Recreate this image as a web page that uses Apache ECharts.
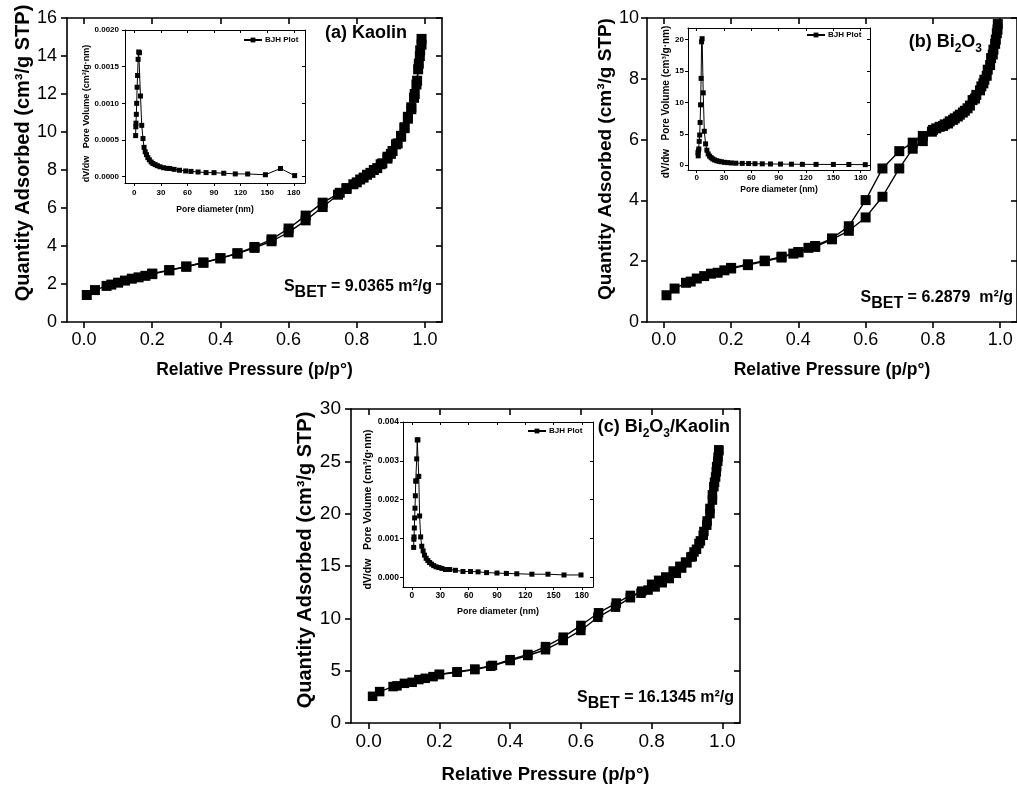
<!DOCTYPE html>
<html><head><meta charset="utf-8">
<script src="https://cdn.jsdelivr.net/npm/echarts@6/dist/echarts.min.js"></script>
<style>html,body{margin:0;padding:0;background:#fff}#c{width:1017px;height:787px}</style>
</head><body><div id="c"></div>
<script>
// ---------- DATA ----------
const pTicks = [0, 0.2, 0.4, 0.6, 0.8, 1.0];
const dTicks = [0, 30, 60, 90, 120, 150, 180];
const kaoInsetYTicks = [0, 0.0005, 0.0010, 0.0015, 0.0020];
const biInsetYTicks = [0, 5, 10, 15, 20];
const compInsetYTicks = [0, 0.001, 0.002, 0.003, 0.004];

// (a) Kaolin isotherm
const kaoAdsP = [0.008,0.032,0.066,0.08,0.1,0.12,0.14,0.16,0.18,0.2,0.25,0.3,0.35,0.4,0.45,0.5,0.55,0.6,0.65,0.7,0.745,0.77,0.8,0.82,0.84,0.86,0.875,0.89,0.9,0.915,0.93,0.94,0.95,0.96,0.97,0.977,0.982,0.986,0.99];
const kaoAdsQ = [1.42,1.68,1.9,1.97,2.07,2.18,2.28,2.35,2.43,2.52,2.72,2.91,3.12,3.35,3.6,3.9,4.25,4.72,5.35,6.05,6.7,7.0,7.35,7.6,7.85,8.1,8.35,8.6,8.85,9.35,9.8,10.25,10.8,11.3,12.0,12.7,13.6,14.3,14.9];
const kaoDesP = [0.99,0.985,0.98,0.975,0.968,0.96,0.95,0.94,0.93,0.92,0.905,0.89,0.87,0.85,0.83,0.81,0.79,0.77,0.75,0.7,0.65,0.6,0.55,0.5,0.45,0.4,0.35,0.3,0.25,0.2];
const kaoDesQ = [14.6,14.0,13.3,12.5,11.8,11.2,10.7,10.2,9.75,9.4,9.0,8.7,8.3,8.0,7.75,7.5,7.25,7.05,6.8,6.28,5.6,4.92,4.35,3.95,3.62,3.36,3.13,2.92,2.73,2.55];
// (b) Bi2O3 isotherm
const biAdsP = [0.008,0.032,0.066,0.08,0.098,0.12,0.14,0.16,0.18,0.2,0.25,0.3,0.35,0.385,0.4,0.43,0.45,0.5,0.55,0.6,0.65,0.7,0.74,0.77,0.797,0.81,0.83,0.845,0.86,0.874,0.889,0.903,0.918,0.929,0.944,0.953,0.963,0.973,0.98,0.987,0.992];
const biAdsQ = [0.88,1.1,1.29,1.33,1.43,1.51,1.59,1.62,1.7,1.76,1.87,2.0,2.12,2.25,2.29,2.44,2.47,2.72,3.0,3.44,4.12,5.05,5.7,5.95,6.26,6.37,6.45,6.53,6.65,6.76,6.89,7.03,7.3,7.47,7.75,7.97,8.3,8.68,8.96,9.29,9.62];
const biDesP = [0.993,0.99,0.985,0.978,0.97,0.96,0.95,0.94,0.925,0.91,0.895,0.88,0.865,0.85,0.835,0.82,0.8,0.77,0.74,0.7,0.65,0.6,0.55,0.5,0.45,0.4,0.35,0.3,0.25,0.2];
const biDesQ = [9.8,9.5,9.15,8.8,8.45,8.1,7.85,7.62,7.35,7.12,6.95,6.82,6.7,6.6,6.5,6.42,6.32,6.12,5.9,5.62,5.05,4.01,3.15,2.75,2.5,2.3,2.15,2.02,1.9,1.78];
// (c) Bi2O3/Kaolin isotherm
const compAdsP = [0.011,0.031,0.069,0.08,0.101,0.123,0.142,0.16,0.182,0.2,0.25,0.3,0.345,0.4,0.45,0.5,0.55,0.6,0.648,0.698,0.74,0.772,0.8,0.82,0.84,0.861,0.88,0.896,0.911,0.92,0.934,0.946,0.956,0.965,0.972,0.976,0.981,0.984,0.988,0.99];
const compAdsQ = [2.55,3.0,3.48,3.55,3.79,3.89,4.15,4.27,4.43,4.63,4.85,5.1,5.42,5.97,6.45,7.0,7.88,8.84,10.1,11.07,11.97,12.6,13.25,13.63,13.95,14.52,14.97,15.38,15.86,16.34,17.15,17.94,18.9,20.0,21.3,22.57,23.5,24.5,25.4,26.1];
const compDesP = [0.99,0.987,0.983,0.978,0.972,0.965,0.957,0.948,0.938,0.927,0.915,0.9,0.885,0.87,0.85,0.83,0.81,0.79,0.77,0.74,0.7,0.65,0.6,0.55,0.5,0.45,0.4,0.35,0.3,0.25,0.2];
const compDesQ = [26.0,25.0,24.0,23.0,21.8,20.5,19.3,18.3,17.4,16.6,15.9,15.3,14.8,14.3,13.8,13.4,13.0,12.7,12.4,12.19,11.46,10.53,9.32,8.2,7.3,6.55,6.05,5.5,5.15,4.9,4.65];
// BJH insets
const kaoPoreD = [1.5,1.7,1.9,2.3,2.7,3.2,3.7,4.3,5.0,5.8,7.0,8.4,9.8,11,12.3,13.8,15.3,17,19,21,23.5,26,29,33,37,40,45,51,58,64,72,81,90,101,114,128,148,165,181];
const kaoPoreV = [0.00056,0.00068,0.00073,0.00085,0.001,0.00122,0.00138,0.0016,0.0017,0.00169,0.0011,0.0007,0.00052,0.0004,0.00034,0.0003,0.00026,0.00023,0.0002,0.00018,0.000165,0.00015,0.000135,0.000122,0.000114,0.000112,0.0001,0.000088,0.000078,0.000072,0.000064,0.000056,0.000055,0.000047,0.000038,0.000037,0.000027,0.000112,0.000015];
const biPoreD = [1.4,1.7,2.0,2.4,2.8,3.3,3.8,4.3,4.9,5.4,6.0,7.2,8.4,9.8,11.2,12.6,14.2,15.9,17.7,19.7,22,24.5,27.3,30.5,34,38,43,50,57,64,72,81,92,104,116,131,150,167,185];
const biPoreV = [2.0,1.5,2.3,2.6,3.8,4.8,6.8,9.6,13.8,19.6,20.1,11.5,5.4,3.4,2.4,1.8,1.45,1.2,1.0,0.85,0.72,0.63,0.55,0.47,0.42,0.37,0.33,0.3,0.27,0.25,0.23,0.21,0.19,0.17,0.15,0.14,0.13,0.12,0.1];
const compPoreD = [1.8,2.0,2.2,2.5,2.8,3.2,3.6,4.0,4.4,5.0,5.6,6.3,7.2,8.1,9.2,10.4,11.8,13.3,15,16.8,18.7,20.8,23,25.5,28.5,31.7,35.5,40,46,54,62,70,79,90,100,111,127,144,161,179];
const compPoreV = [0.00077,0.00098,0.00104,0.00127,0.00153,0.00178,0.0021,0.00248,0.00248,0.00305,0.00354,0.00354,0.0026,0.00158,0.00104,0.0008,0.00068,0.00057,0.00049,0.00043,0.00038,0.00034,0.0003,0.00027,0.00025,0.00023,0.0002,0.0002,0.00018,0.00015,0.00015,0.00014,0.00012,0.00011,0.0001,0.00009,0.00008,0.00008,0.00006,0.00006];

// ---------- BUILD ----------
const FONT = "'Liberation Sans', Arial, sans-serif";
const zip = (a, b) => a.map((v, i) => [v, b[i]]);
const grids = [], xAxes = [], yAxes = [], series = [];

function addBox(g, c) {
  grids.push(g);
  const gi = grids.length - 1;
  const lw = c.lw, tl = c.tickLen;
  const line = {show: true, onZero: false, lineStyle: {color: '#000', width: lw}};
  const tick = (inside, vals) => ({show: true, inside, length: tl, customValues: vals, lineStyle: {color: '#000', width: lw}});
  xAxes.push({gridIndex: gi, type: 'value', position: 'bottom', min: c.xmin, max: c.xmax,
    name: c.xName, nameLocation: 'middle', nameGap: c.xNameGap,
    nameTextStyle: {fontFamily: FONT, fontSize: c.xNameFs, fontWeight: 'bold', color: '#000'},
    axisLine: line, axisTick: tick(false, c.xTicks),
    axisLabel: {customValues: c.xTicks, formatter: c.xFmt, fontFamily: FONT, fontSize: c.labelFs, fontWeight: c.labelFw, color: '#000', margin: c.xMargin},
    splitLine: {show: false}});
  const xb = xAxes.length - 1;
  xAxes.push({gridIndex: gi, type: 'value', position: 'top', min: c.xmin, max: c.xmax,
    axisLine: line, axisTick: tick(true, c.xTicks), axisLabel: {show: false}, splitLine: {show: false}});
  yAxes.push({gridIndex: gi, type: 'value', position: 'left', min: c.ymin, max: c.ymax,
    name: c.yName, nameLocation: 'middle', nameGap: c.yNameGap,
    nameTextStyle: {fontFamily: FONT, fontSize: c.yNameFs, fontWeight: 'bold', color: '#000', padding: c.yNamePad},
    axisLine: line, axisTick: tick(false, c.yTicks),
    axisLabel: {customValues: c.yTicks, formatter: c.yFmt, fontFamily: FONT, fontSize: c.labelFs, fontWeight: c.labelFw, color: '#000', margin: c.yMargin},
    splitLine: {show: false}});
  const yl = yAxes.length - 1;
  yAxes.push({gridIndex: gi, type: 'value', position: 'right', min: c.ymin, max: c.ymax,
    axisLine: line, axisTick: tick(true, c.yTicks), axisLabel: {show: false}, splitLine: {show: false}});
  return {x: xb, y: yl};
}

const mainBase = {xmin: -0.05, xmax: 1.05, xTicks: pTicks, xFmt: v => v.toFixed(1), yFmt: v => String(Math.round(v)),
  xName: 'Relative Pressure (p/p°)', yName: 'Quantity Adsorbed (cm³/g STP)', lw: 1.6, tickLen: 6, labelFw: 'normal',
  xMargin: 9, yMargin: 10};
const insetBase = {xTicks: dTicks, xFmt: v => String(v), xName: 'Pore diameter (nm)', yName: 'dV/dw   Pore Volume (cm³/g·nm)',
  lw: 1, tickLen: 3, labelFw: 'bold'};

const rng = (a, b, s) => { const r = []; for (let v = a; v <= b + 1e-9; v += s) r.push(+v.toFixed(6)); return r; };

const A = addBox({left: 67, top: 18, width: 375, height: 304}, Object.assign({}, mainBase, {
  ymin: 0, ymax: 16, yTicks: rng(0, 16, 2), labelFs: 18, xNameFs: 17.5, yNameFs: 20, xNameGap: 39, yNameGap: 33, yNamePad: [0, 0, 0, 34]}));
const B = addBox({left: 647, top: 18, width: 376, height: 304}, Object.assign({}, mainBase, {
  ymin: 0, ymax: 10, yTicks: rng(0, 10, 2), labelFs: 18, xNameFs: 17.5, yNameFs: 19, xNameGap: 39, yNameGap: 31, yNamePad: [0, 0, 0, 22], yMargin: 8}));
const C = addBox({left: 351, top: 409, width: 389, height: 314}, Object.assign({}, mainBase, {
  ymin: 0, ymax: 30, yTicks: rng(0, 30, 5), labelFs: 19, xNameFs: 18.5, yNameFs: 20, xNameGap: 42, yNameGap: 35, yNamePad: [0, 0, 0, 12]}));

const IA = addBox({left: 125, top: 30, width: 180, height: 153}, Object.assign({}, insetBase, {
  xmin: -10.5, xmax: 192.7, ymin: -0.000086, ymax: 0.002, yTicks: kaoInsetYTicks, yFmt: v => v.toFixed(4),
  labelFs: 8, xNameFs: 8.5, yNameFs: 9, xNameGap: 22, yNameGap: 28, yNamePad: [0, 14, 0, 0], xMargin: 6, yMargin: 6}));
const IB = addBox({left: 688, top: 28, width: 182, height: 142}, Object.assign({}, insetBase, {
  xmin: -9.5, xmax: 190.2, ymin: -0.75, ymax: 21.8, yTicks: biInsetYTicks, yFmt: v => String(Math.round(v)),
  labelFs: 8, xNameFs: 8.5, yNameFs: 10, xNameGap: 15, yNameGap: 11, yNamePad: [0, 6, 0, 0], xMargin: 4, yMargin: 4}));
const IC = addBox({left: 403, top: 422, width: 190, height: 165}, Object.assign({}, insetBase, {
  xmin: -9.5, xmax: 191.7, ymin: -0.00025, ymax: 0.004, yTicks: compInsetYTicks, yFmt: v => v.toFixed(3),
  labelFs: 8.5, xNameFs: 9, yNameFs: 10.5, xNameGap: 20, yNameGap: 10, yNamePad: [0, 10, 0, 0], xMargin: 4, yMargin: 4}));

function mainSeries(name, ax, p, q, size) {
  series.push({name, type: 'line', xAxisIndex: ax.x, yAxisIndex: ax.y, data: zip(p, q),
    symbol: 'rect', symbolSize: size, itemStyle: {color: '#000'}, lineStyle: {color: '#000', width: 1.4},
    silent: true, animation: false, z: 3});
}
mainSeries('Adsorption', A, kaoAdsP, kaoAdsQ, 10);
mainSeries('Desorption', A, kaoDesP, kaoDesQ, 10);
mainSeries('Adsorption', B, biAdsP, biAdsQ, 10);
mainSeries('Desorption', B, biDesP, biDesQ, 10);
mainSeries('Adsorption', C, compAdsP, compAdsQ, 9.5);
mainSeries('Desorption', C, compDesP, compDesQ, 9.5);

function insetSeries(ax, d, v) {
  series.push({name: 'BJH Plot', type: 'line', xAxisIndex: ax.x, yAxisIndex: ax.y, data: zip(d, v),
    symbol: 'rect', symbolSize: 5, itemStyle: {color: '#000'}, lineStyle: {color: '#000', width: 1},
    silent: true, animation: false, z: 4});
}
insetSeries(IA, kaoPoreD, kaoPoreV);
insetSeries(IB, biPoreD, biPoreV);
insetSeries(IC, compPoreD, compPoreV);

const legendAt = (left, top) => ({data: ['BJH Plot'], left, top, orient: 'horizontal', padding: 0, itemWidth: 18, itemHeight: 6,
  itemGap: 0, selectedMode: false, textStyle: {fontFamily: FONT, fontSize: 8, fontWeight: 'bold', color: '#000', padding: [0, 0, 0, -2]}});

const bold = (fs, lh, va) => ({fontFamily: FONT, fontSize: fs, fontWeight: 'bold', lineHeight: lh, verticalAlign: va, fill: '#000'});
const sbet = (value, x, y) => ({type: 'text', x, y, z: 10, style: {
  text: '{m|S}{b|BET}{m| = ' + value + '}', align: 'right', verticalAlign: 'middle', fill: '#000',
  rich: {m: bold(16, 16, 'top'), b: bold(16, 28, 'middle')}}});

const option = {
  animation: false,
  backgroundColor: '#fff',
  grid: grids,
  xAxis: xAxes,
  yAxis: yAxes,
  legend: [legendAt(243, 36), legendAt(806, 31), legendAt(527, 427)],
  series,
  graphic: [
    {type: 'text', x: 407, y: 33, z: 10, style: {text: '(a) Kaolin', fontFamily: FONT, fontSize: 18, fontWeight: 'bold', fill: '#000', align: 'right', verticalAlign: 'middle'}},
    {type: 'text', x: 982, y: 49, z: 10, style: {text: '{m|(b) Bi}{s|2}{m|O}{s|3}', align: 'right', verticalAlign: 'middle', fill: '#000',
      rich: {m: bold(18, 18, 'top'), s: bold(12, 31, 'middle')}}},
    {type: 'text', x: 730, y: 434, z: 10, style: {text: '{m|(c) Bi}{s|2}{m|O}{s|3}{m|/Kaolin}', align: 'right', verticalAlign: 'middle', fill: '#000',
      rich: {m: bold(18, 18, 'top'), s: bold(12, 31, 'middle')}}},
    sbet('9.0365 m²/g', 432, 293),
    sbet('6.2879  m²/g', 1013, 304),
    sbet('16.1345 m²/g', 734, 704)
  ]
};
const chart = echarts.init(document.getElementById('c'), null, {renderer: 'canvas'});
chart.setOption(option);
</script></body></html>
